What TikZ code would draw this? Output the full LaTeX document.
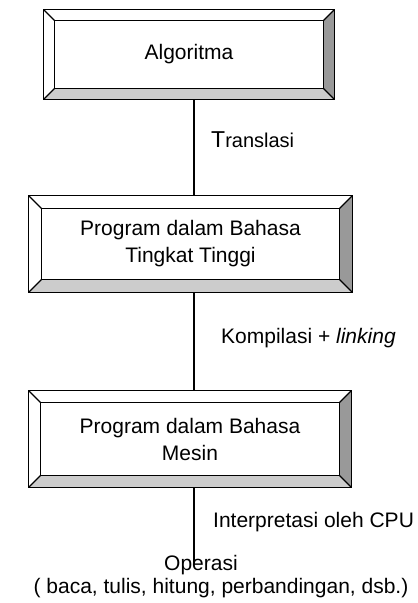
\documentclass[tikz,border=0pt]{standalone}
\usepackage{fontspec}
\setmainfont{Liberation Sans}
\definecolor{bevdark}{HTML}{999999}
\definecolor{bevlight}{HTML}{CCCCCC}
\newcommand{\bevelbox}[2]{%
  \fill[white] (#1.north west) -- (#1.north east) -- ([xshift=-#2pt,yshift=-#2pt]#1.north east) -- ([xshift=#2pt,yshift=-#2pt]#1.north west) -- cycle;
  \fill[white] (#1.north west) -- (#1.south west) -- ([xshift=#2pt,yshift=#2pt]#1.south west) -- ([xshift=#2pt,yshift=-#2pt]#1.north west) -- cycle;
  \fill[bevdark] (#1.north east) -- (#1.south east) -- ([xshift=-#2pt,yshift=#2pt]#1.south east) -- ([xshift=-#2pt,yshift=-#2pt]#1.north east) -- cycle;
  \fill[bevlight] (#1.south west) -- (#1.south east) -- ([xshift=-#2pt,yshift=#2pt]#1.south east) -- ([xshift=#2pt,yshift=#2pt]#1.south west) -- cycle;
  \draw[line width=1.3pt] (#1.north west) rectangle (#1.south east);
  \draw[line width=1.3pt] ([xshift=#2pt,yshift=-#2pt]#1.north west) rectangle ([xshift=-#2pt,yshift=#2pt]#1.south east);
  \draw[line width=1.1pt] (#1.north west) -- ([xshift=#2pt,yshift=-#2pt]#1.north west)
    (#1.north east) -- ([xshift=-#2pt,yshift=-#2pt]#1.north east)
    (#1.south west) -- ([xshift=#2pt,yshift=#2pt]#1.south west)
    (#1.south east) -- ([xshift=-#2pt,yshift=#2pt]#1.south east);
}
\tikzset{
  boxnode/.style={inner sep=0pt, align=center, font=\fontsize{21}{27}\selectfont},
  lbl/.style={inner sep=0pt, anchor=west, font=\fontsize{21}{24}\selectfont},
  conn/.style={line width=1.1pt}
}
\begin{document}
\begin{tikzpicture}[x=1pt,y=-1pt]
\useasboundingbox (0,0) rectangle (418,603);
\node[boxnode, minimum width=290pt, minimum height=89pt] (b1) at (189,54.5) {Algoritma};
\bevelbox{b1}{11}
\node[boxnode, minimum width=323pt, minimum height=96pt] (b2) at (190.5,244) {Program dalam Bahasa\\Tingkat Tinggi};
\bevelbox{b2}{13}
\node[boxnode, minimum width=322pt, minimum height=96pt] (b3) at (190,439) {Program dalam Bahasa\\Mesin};
\bevelbox{b3}{12}
\node[boxnode] (op1) at (201,565) {Operasi};
\node[boxnode] (op2) at (221,588) {( baca, tulis, hitung, perbandingan, dsb.)};
\draw[conn] ([xshift=5pt]b1.south) -- ([xshift=5pt]b1.south |- b2.north);
\draw[conn] ([xshift=3.5pt]b2.south) -- ([xshift=3.5pt]b2.south |- b3.north);
\coordinate (e3) at ([xshift=4pt]b3.south |- op1.center);
\draw[conn] ([xshift=4pt]b3.south) -- (e3);
\node[lbl] (l1) at (211,140) {{\fontsize{23}{24}\selectfont T}\fontsize{20}{24}\selectfont ranslasi};
\node[lbl] (l2) at (221,338) {Kompilasi + \textit{linking}};
\node[lbl] (l3) at (213,522) {Interpretasi oleh CPU};
\end{tikzpicture}
\end{document}
